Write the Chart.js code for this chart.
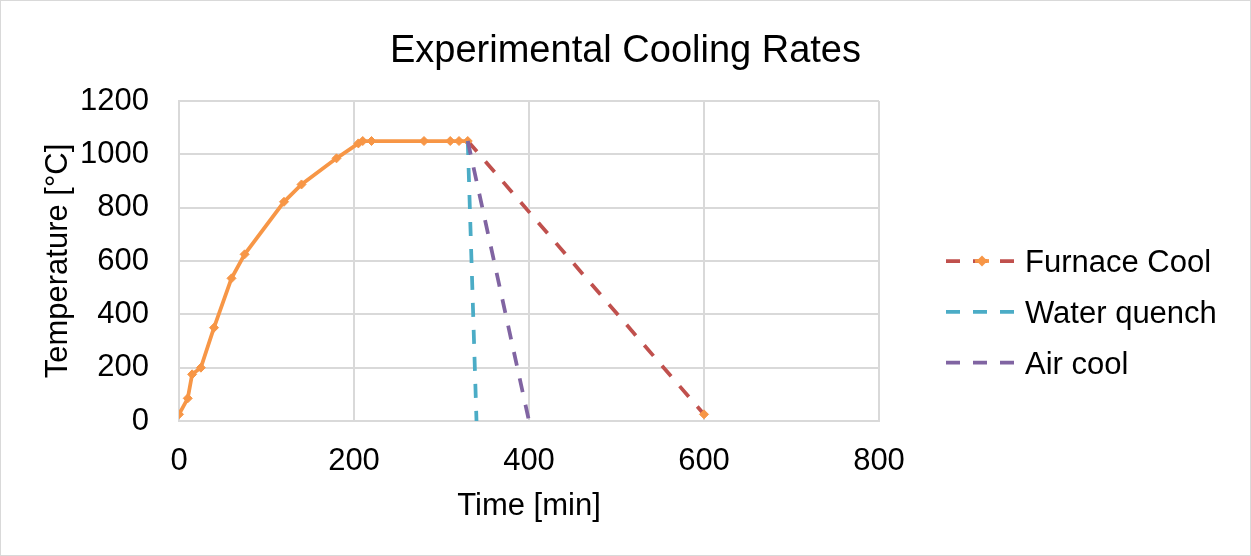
<!DOCTYPE html>
<html><head><meta charset="utf-8">
<script src="https://cdn.jsdelivr.net/npm/chart.js@4.4.1/dist/chart.umd.min.js"></script>
<style>html,body{margin:0;padding:0;background:#fff;}#wrap{width:1251px;height:556px;position:relative;}</style>
</head><body><div id="wrap"><canvas id="c" width="1251" height="556"></canvas></div>
<script>
// ---- data ----
const chartTitle = 'Experimental Cooling Rates';
const seriesNames = ['Furnace Cool', 'Water quench', 'Air cool'];
const heatTime = [0, 10, 15, 25, 40, 60, 75, 120, 140, 180, 205, 210, 220, 280, 310, 320, 330];
const heatTemp = [25, 85, 175, 200, 350, 535, 625, 822, 887, 985, 1041, 1050, 1050, 1050, 1050, 1050, 1050];
const furnaceCoolTime = [600];
const furnaceCoolTemp = [25];
const waterTime = [330, 340];
const waterTemp = [1050, 0];
const airTime = [330, 400];
const airTemp = [1050, 0];
const xTicks = [0, 200, 400, 600, 800];
const yTicks = [0, 200, 400, 600, 800, 1000, 1200];
const xTitle = 'Time [min]';
const yTitle = 'Temperature [°C]';

// ---- styles ----
const ORANGE = '#F79646', RED = '#C0504D', CYAN = '#4BACC6', PURPLE = '#8064A2';
const GRID = '#D9D9D9';
const DASH = [14, 13];
const LW = 3.75;
const FONT = 'Liberation Sans, Arial, sans-serif';

const pts = (xs, ys) => xs.map((x, i) => ({x, y: ys[i]}));
const furnaceData = pts(heatTime.concat(furnaceCoolTime), heatTemp.concat(furnaceCoolTemp));
const lastIdx = furnaceData.length - 1;

const legendColors = [RED, CYAN, PURPLE];

const decor = {
  id: 'decor',
  beforeDraw(chart) {
    const ctx = chart.ctx;
    ctx.save();
    ctx.fillStyle = '#fff';
    ctx.fillRect(0, 0, chart.width, chart.height);
    ctx.strokeStyle = GRID;
    ctx.lineWidth = 1;
    ctx.strokeRect(0.5, 0.5, chart.width - 1, chart.height - 1);
    ctx.restore();
  },
  afterDraw(chart) {
    const ctx = chart.ctx;
    ctx.save();
    ctx.fillStyle = '#000';
    ctx.font = '38px ' + FONT;
    ctx.textAlign = 'center';
    ctx.textBaseline = 'alphabetic';
    ctx.fillText(chartTitle, chart.width / 2, 62);
    // legend
    ctx.font = '31px ' + FONT;
    ctx.textAlign = 'left';
    seriesNames.forEach((name, i) => {
      const ly = 261 + i * 50.8;
      ctx.strokeStyle = legendColors[i];
      ctx.lineWidth = LW;
      ctx.setLineDash(DASH);
      ctx.lineCap = 'butt';
      ctx.beginPath();
      ctx.moveTo(946, ly);
      ctx.lineTo(1018, ly);
      ctx.stroke();
      ctx.setLineDash([]);
      if (i === 0) {
        ctx.strokeStyle = ORANGE;
        ctx.beginPath();
        ctx.moveTo(975, ly);
        ctx.lineTo(989, ly);
        ctx.stroke();
        ctx.fillStyle = ORANGE;
        ctx.beginPath();
        ctx.moveTo(982, ly - 5.5);
        ctx.lineTo(987.5, ly);
        ctx.lineTo(982, ly + 5.5);
        ctx.lineTo(976.5, ly);
        ctx.closePath();
        ctx.fill();
      }
      ctx.fillStyle = '#000';
      ctx.fillText(name, 1025, ly + 11);
    });
    ctx.restore();
  }
};

new Chart(document.getElementById('c'), {
  type: 'scatter',
  data: {
    datasets: [
      {
        label: seriesNames[0],
        data: furnaceData,
        showLine: true,
        borderColor: ORANGE,
        backgroundColor: ORANGE,
        borderWidth: LW,
        pointStyle: 'rectRot',
        pointRadius: 4.5,
        pointBorderWidth: 1,
        pointBackgroundColor: ORANGE,
        pointBorderColor: ORANGE,
        order: 3,
        segment: {
          borderColor: c => c.p1DataIndex === lastIdx ? RED : ORANGE,
          borderDash: c => c.p1DataIndex === lastIdx ? DASH : []
        }
      },
      {
        label: seriesNames[1],
        data: pts(waterTime, waterTemp),
        showLine: true,
        borderColor: CYAN,
        backgroundColor: CYAN,
        borderWidth: LW,
        borderDash: DASH,
        pointRadius: 0,
        order: 2
      },
      {
        label: seriesNames[2],
        data: pts(airTime, airTemp),
        showLine: true,
        borderColor: PURPLE,
        backgroundColor: PURPLE,
        borderWidth: LW,
        borderDash: DASH,
        pointRadius: 0,
        order: 1
      }
    ]
  },
  options: {
    responsive: false,
    animation: false,
    devicePixelRatio: 1,
    layout: { padding: { left: 0, top: 101, right: 372, bottom: 0 } },
    plugins: { legend: { display: false }, title: { display: false }, tooltip: { enabled: false } },
    scales: {
      x: {
        type: 'linear',
        min: xTicks[0], max: xTicks[xTicks.length - 1],
        afterBuildTicks: s => { s.ticks = xTicks.map(v => ({value: v})); },
        afterFit: s => { s.height = 135; },
        grid: { color: GRID, lineWidth: 2, drawTicks: false },
        border: { color: GRID, width: 2 },
        ticks: { font: { family: FONT, size: 31 }, color: '#000', padding: 22, maxRotation: 0, callback: v => String(v) },
        title: { display: true, text: xTitle, font: { family: FONT, size: 31 }, color: '#000', padding: { top: 0, bottom: 31 } }
      },
      y: {
        type: 'linear',
        min: yTicks[0], max: yTicks[yTicks.length - 1],
        afterBuildTicks: s => { s.ticks = yTicks.map(v => ({value: v})); },
        afterFit: s => { s.width = 179; },
        grid: { color: GRID, lineWidth: 2, drawTicks: false },
        border: { color: GRID, width: 2 },
        ticks: { font: { family: FONT, size: 31 }, color: '#000', padding: 30, callback: v => String(v) },
        title: { display: true, text: yTitle, font: { family: FONT, size: 31 }, color: '#000', padding: { top: 40, bottom: 0 } }
      }
    }
  },
  plugins: [decor]
});
</script>
</body></html>
